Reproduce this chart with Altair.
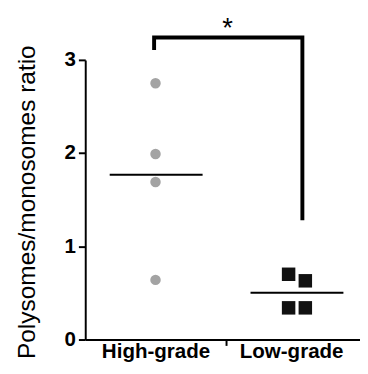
import altair as alt
import pandas as pd

# ---- data ----
groups = ["High-grade", "Low-grade"]
group_pos = [0.5, 1.5]
label_pos = [0.5, 1.465]
high_vals = [2.75, 1.99, 1.69, 0.64]
high_x = [0.5, 0.5, 0.5, 0.5]
low_vals = [0.70, 0.63, 0.34, 0.34]
low_x = [1.447, 1.566, 1.447, 1.566]
mean_x1 = [0.174, 1.176]
mean_x2 = [0.835, 1.837]
bracket_x = [0.49, 0.49, 1.545, 1.545]
bracket_y = [3.105, 3.24, 3.24, 1.28]
star_x = [1.0125]
star_y = [3.24]
y_ticks = [0, 1, 2, 3]

FONT = "Liberation Sans"

high_df = pd.DataFrame({"x": high_x, "y": high_vals})
low_df = pd.DataFrame({"x": low_x, "y": low_vals})
mean_df = pd.DataFrame({
    "x": mean_x1, "x2": mean_x2,
    "y": [sum(high_vals) / len(high_vals), sum(low_vals) / len(low_vals)],
})
bracket_df = pd.DataFrame({"x": bracket_x, "y": bracket_y, "o": list(range(len(bracket_x)))})
star_df = pd.DataFrame({"x": star_x, "y": star_y, "t": ["*"]})

xscale = alt.Scale(domain=[0, 1.955], nice=False, zero=False)
yscale = alt.Scale(domain=[0, 3], nice=False)

x_axis = alt.Axis(
    values=[label_pos[0], 1.0, label_pos[1]],
    labelExpr="datum.value < 0.8 ? 'High-grade' : (datum.value > 1.2 ? 'Low-grade' : '')",
    title=None, grid=False, tickSize=6, tickWidth=2,
    tickColor=alt.condition("datum.value == 1", alt.value("black"), alt.value("transparent")),
    domainColor="black", domainWidth=2,
    labelFont=FONT, labelFontSize=21, labelFontWeight="bold", labelColor="black",
    labelPadding=-5, labelOverlap=False, labelFlush=False, labelBound=False,
)
y_axis = alt.Axis(
    values=y_ticks, format="d", title="Polysomes/monosomes ratio", grid=False,
    tickSize=7, tickWidth=2, tickColor="black", domainColor="black", domainWidth=2,
    labelFont=FONT, labelFontSize=21, labelFontWeight="bold", labelColor="black", labelPadding=3,
    titleFont=FONT, titleFontSize=25, titleFontWeight="normal", titleColor="black",
    titleX=-52, titleY=145, titleAngle=270, titleBaseline="alphabetic", titleAlign="center",
)

high = alt.Chart(high_df).mark_point(shape="circle", filled=True, size=115, color="#a3a3a3", opacity=1).encode(
    x=alt.X("x:Q", scale=xscale, axis=x_axis),
    y=alt.Y("y:Q", scale=yscale, axis=y_axis),
)
low = alt.Chart(low_df).mark_point(shape="square", filled=True, size=190, color="#111111", opacity=1).encode(
    x=alt.X("x:Q", scale=xscale),
    y=alt.Y("y:Q", scale=yscale),
)
means = alt.Chart(mean_df).mark_rule(color="black", strokeWidth=2).encode(
    x=alt.X("x:Q", scale=xscale), x2="x2:Q", y=alt.Y("y:Q", scale=yscale),
)
bracket = alt.Chart(bracket_df).mark_line(color="black", strokeWidth=4, strokeJoin="miter", strokeCap="butt").encode(
    x=alt.X("x:Q", scale=xscale), y=alt.Y("y:Q", scale=yscale), order="o:Q",
)
star = alt.Chart(star_df).mark_text(font=FONT, fontSize=28, color="black", baseline="alphabetic", align="center", dy=-1).encode(
    x=alt.X("x:Q", scale=xscale), y=alt.Y("y:Q", scale=yscale), text="t:N",
)

chart = alt.layer(bracket, means, high, low, star).properties(
    width=281, height=286,
    autosize=alt.AutoSizeParams(type="none"),
    padding={"left": 79, "top": 49, "right": 0, "bottom": 23},
    background="white",
).configure_view(stroke=None)

chart.save("out.html", embed_options={"renderer": "svg", "actions": False})
